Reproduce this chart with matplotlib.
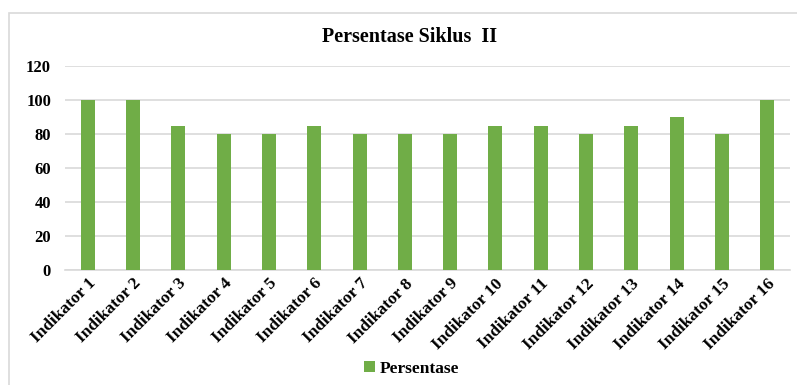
import matplotlib.pyplot as plt
from matplotlib.patches import Rectangle

categories = ['Indikator %d' % i for i in range(1, 17)]
persentase = [100, 100, 85, 80, 80, 85, 80, 80, 80, 85, 85, 80, 85, 90, 80, 100]
y_ticks = [0, 20, 40, 60, 80, 100, 120]

plt.rcParams['font.family'] = ['Liberation Serif', 'DejaVu Serif']
plt.rcParams['font.weight'] = 'bold'

fig = plt.figure(figsize=(7.97, 3.85), dpi=100)
# outer chart frame (only top/left visible in reference)
fig.patches.append(Rectangle((9 / 797, -0.1), 1.2, 1 - 13 / 385 + 0.1,
                             transform=fig.transFigure, fill=False,
                             edgecolor='#d9d9d9', linewidth=1.2))

ax = fig.add_axes([65 / 797, 1 - 270 / 385, 725 / 797, 204 / 385])
x = range(len(categories))
ax.bar(x, persentase, width=0.31, color='#70ad47', label='Persentase', zorder=3)

ax.set_ylim(0, 120)
ax.set_yticks(y_ticks)
ax.set_xlim(-0.5, len(categories) - 0.5)
ax.set_xticks(list(x))
ax.set_xticklabels(categories, rotation=45, ha='right', rotation_mode='anchor',
                   fontsize=12.5, fontweight='bold')
ax.tick_params(axis='y', labelsize=12, length=0, pad=10)
ax.tick_params(axis='x', length=0, pad=4)
for lab in ax.get_yticklabels():
    lab.set_fontweight('bold')
ax.grid(axis='y', color='#d9d9d9', linewidth=1.2, zorder=0)
for s in ['top', 'right', 'left']:
    ax.spines[s].set_visible(False)
ax.spines['bottom'].set_color('#d9d9d9')
ax.spines['bottom'].set_linewidth(1.2)

fig.text(410 / 797, 1 - 37 / 385, 'Persentase Siklus  II', ha='center', va='center',
         fontsize=14.5, fontweight='bold')

fig.legend(loc='center', bbox_to_anchor=(412 / 797, 1 - 369 / 385), frameon=False,
           prop={'size': 12.5, 'weight': 'bold'}, handlelength=0.6, handleheight=0.6,
           handletextpad=0.3)

fig.savefig('out.png', dpi=100)
